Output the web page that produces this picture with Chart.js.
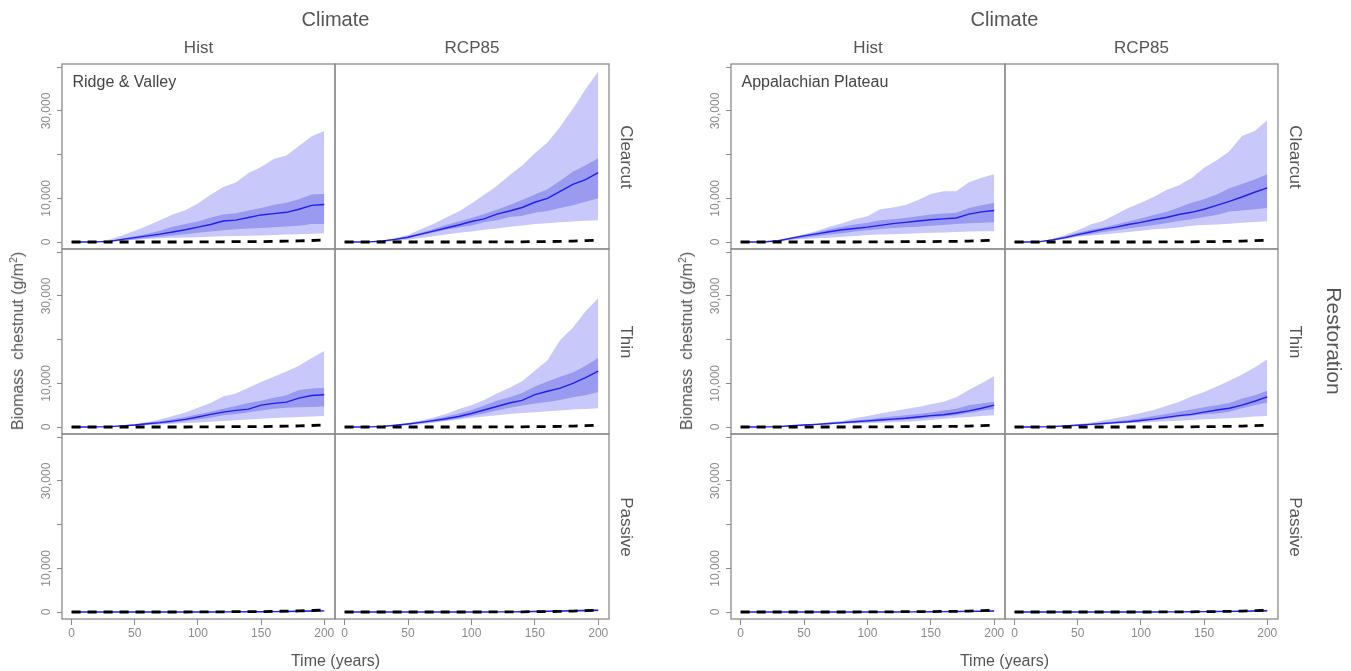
<!DOCTYPE html>
<html>
<head>
<meta charset="utf-8">
<script src="https://cdn.jsdelivr.net/npm/chart.js@4.4.1/dist/chart.umd.min.js"></script>
<style>
  body { margin: 0; background: #fff; }
  #wrap { position: relative; width: 1351px; height: 671px; overflow: hidden;
          font-family: "Liberation Sans", Arial, sans-serif; color: #555; }
  .pc { position: absolute; }
  .t { position: absolute; white-space: nowrap; line-height: 1; transform: translate(-50%, -50%); }
  .t sup { font-size: 0.65em; line-height: 0; vertical-align: 0.55em; }
</style>
</head>
<body>
<div id="wrap"></div>
<script>
// time axis (years) and axis ticks
const years = [0,10,20,30,40,50,60,70,80,90,100,110,120,130,140,150,160,170,180,190,200];
const xTicks = [0,50,100,150,200];
const yTicks = [0,10000,20000,30000,40000];
const yTickLabels = ['0','10,000','','30,000',''];

const climates = ['Hist', 'RCP85'];
const treatments = ['Clearcut', 'Thin', 'Passive'];
const regions = ['Ridge & Valley', 'Appalachian Plateau'];

// dashed reference line (same in every row of a column)
const rvHistRef = [0,0,0,0,0,0,0,0,0,0,50,50,50,100,100,100,150,200,250,350,450];
const rvRcpRef  = [0,0,0,0,0,0,0,0,0,0,0,0,50,50,50,100,100,150,200,300,400];
const apHistRef = [0,0,0,0,0,0,0,0,0,0,50,50,50,100,100,100,150,150,200,300,400];
const apRcpRef  = [0,0,0,0,0,0,0,0,0,0,0,0,50,50,50,100,100,150,200,300,400];

// Ridge & Valley, Hist, Clearcut
const rvHistCutMed  = [0,0,30,150,600,1000,1400,1800,2300,2800,3400,4000,4800,5000,5600,6200,6500,6800,7500,8400,8600];
const rvHistCutHi90 = [0,0,100,600,1500,2600,3700,5000,6300,7300,8800,10800,12600,13600,15800,17200,19000,19800,22000,24200,25400];
const rvHistCutLo90 = [0,0,0,100,300,500,700,850,950,1050,1100,1200,1300,1400,1450,1500,1600,1700,1800,1900,2000];
const rvHistCutHi50 = [0,0,50,250,800,1300,1900,2600,3500,4100,4700,5600,6300,6600,7200,7800,8500,9000,9800,10900,11000];
const rvHistCutLo50 = [0,0,10,80,300,550,900,1200,1500,1800,2100,2400,2700,2900,3100,3200,3400,3550,3700,4100,4150];

// Ridge & Valley, RCP85, Clearcut
const rvRcpCutMed  = [0,0,30,230,600,1100,1800,2500,3200,3900,4700,5300,6400,7100,7900,9100,10000,11600,13200,14300,15900];
const rvRcpCutHi90 = [0,0,50,300,900,1600,2900,4100,5600,7000,8800,10800,12800,15300,17500,20300,22800,26400,30500,35000,39100];
const rvRcpCutLo90 = [0,0,0,50,250,500,900,1300,1700,2100,2400,2800,3100,3500,3800,4100,4300,4500,4700,4850,5000];
const rvRcpCutHi50 = [0,0,40,300,800,1300,2100,3000,3900,4700,5500,6400,7400,8500,9600,10900,12100,14000,16100,17600,19200];
const rvRcpCutLo50 = [0,0,20,150,450,850,1500,2200,2800,3300,3800,4500,5000,5700,6000,6700,7100,7800,8400,9200,10000];

// Ridge & Valley, Hist, Thin
const rvHistThinMed  = [0,0,20,100,250,450,750,1000,1350,1750,2300,2900,3400,3800,4100,5000,5400,5700,6600,7200,7400];
const rvHistThinHi90 = [0,0,30,150,400,700,1150,1700,2500,3300,4400,5500,7000,7700,9000,10300,11500,12700,14000,15800,17400];
const rvHistThinLo90 = [0,0,0,50,150,300,450,600,750,900,1050,1200,1400,1550,1700,1900,2050,2200,2300,2400,2500];
const rvHistThinHi50 = [0,0,30,130,350,600,950,1300,1750,2300,2900,3500,4200,4800,5500,6000,6700,7300,8500,8800,9000];
const rvHistThinLo50 = [0,0,10,70,180,350,550,750,1000,1300,1700,2100,2700,3000,3400,3800,4200,4400,4500,4600,4700];

// Ridge & Valley, RCP85, Thin
const rvRcpThinMed  = [0,0,20,150,400,700,1050,1450,1900,2400,3100,3900,4700,5500,6100,7400,8200,8900,10000,11300,12800];
const rvRcpThinHi90 = [0,0,30,200,500,900,1500,2200,3000,4100,5000,6200,7700,9000,10500,12900,15300,19900,22700,26500,29500];
const rvRcpThinLo90 = [0,0,0,50,200,400,650,1000,1350,1700,2100,2400,2700,3000,3200,3400,3600,3800,4000,4150,4300];
const rvRcpThinHi50 = [0,0,30,180,450,800,1250,1800,2400,3100,3900,4900,6000,6800,7800,9300,10400,11500,12500,14000,15800];
const rvRcpThinLo50 = [0,0,10,100,300,550,850,1150,1500,1950,2500,3100,3800,4400,4900,5400,5700,6200,6800,7300,8000];

// Ridge & Valley, Passive
const rvHistPasMed  = [0,0,0,0,0,0,0,0,0,0,0,0,20,30,50,70,100,130,170,220,260];
const rvHistPasHi90 = [0,0,0,0,0,0,0,0,10,20,30,40,60,80,110,150,200,250,320,400,480];
const rvHistPasLo90 = [0,0,0,0,0,0,0,0,0,0,0,0,0,0,0,0,0,10,20,30,40];
const rvRcpPasMed   = [0,0,0,0,0,0,0,0,0,0,0,10,20,40,70,110,160,220,280,340,420];
const rvRcpPasHi90  = [0,0,0,0,0,0,0,0,10,20,30,50,80,110,160,220,290,360,450,560,650];
const rvRcpPasLo90  = [0,0,0,0,0,0,0,0,0,0,0,0,0,0,10,20,30,40,60,80,100];

// Appalachian Plateau, Hist, Clearcut
const apHistCutMed  = [0,0,50,300,900,1400,1850,2350,2800,3100,3400,3800,4200,4500,4800,5100,5300,5500,6400,6900,7200];
const apHistCutHi90 = [0,0,100,500,1100,1800,2500,3500,4300,5200,5900,7500,7900,8500,9600,11000,11600,11600,13700,14700,15500];
const apHistCutLo90 = [0,0,20,200,500,700,850,1000,1200,1400,1600,1700,1800,1900,2000,2100,2200,2300,2400,2450,2450];
const apHistCutHi50 = [0,0,70,400,1000,1600,2250,2900,3500,4000,4400,5000,5200,5500,5900,6300,6500,6700,7800,8400,9000];
const apHistCutLo50 = [0,0,30,200,600,1000,1300,1700,2000,2400,2700,3000,3200,3400,3500,3700,3900,4100,4300,4400,4500];

// Appalachian Plateau, RCP85, Clearcut
const apRcpCutMed  = [0,0,80,500,1000,1700,2300,2900,3400,4000,4500,5100,5600,6300,6800,7500,8400,9300,10300,11400,12400];
const apRcpCutHi90 = [0,0,100,700,1600,2700,4000,4800,6300,7800,9000,10300,11900,13000,14600,17000,18700,20800,24300,25400,27900];
const apRcpCutLo90 = [0,0,30,300,700,1200,1500,1700,2000,2300,2600,2900,3100,3300,3700,3900,4000,4200,4400,4600,4750];
const apRcpCutHi50 = [0,0,90,700,1300,2100,2800,3300,4000,4700,5400,6200,6900,7900,9000,9800,10900,12300,13300,14300,15500];
const apRcpCutLo50 = [0,0,60,300,800,1400,1800,2300,2700,3100,3500,3900,4300,4800,5200,5700,6200,7000,7200,7500,7800];

// Appalachian Plateau, Hist, Thin
const apHistThinMed  = [0,0,20,100,300,450,600,800,1000,1200,1400,1600,1800,2000,2300,2600,2800,3200,3700,4300,5000];
const apHistThinHi90 = [0,0,30,150,400,600,800,1100,1400,2000,2500,3100,3600,4100,4600,5200,5800,6800,8500,10000,11700];
const apHistThinLo90 = [0,0,10,50,200,300,450,600,750,800,850,950,1100,1200,1400,1600,1900,2100,2300,2500,2700];
const apHistThinHi50 = [0,0,20,120,350,500,700,900,1200,1500,1700,2100,2400,2700,3000,3300,3800,4200,5000,5400,5800];
const apHistThinLo50 = [0,0,10,80,250,380,500,650,800,950,1100,1300,1500,1700,1900,2100,2400,2700,3200,3700,4100];

// Appalachian Plateau, RCP85, Thin
const apRcpThinMed  = [0,0,20,100,250,400,600,800,1000,1200,1500,1800,2200,2600,2900,3400,3900,4300,5000,5900,6900];
const apRcpThinHi90 = [0,0,30,150,400,700,1000,1500,2000,2600,3200,3900,4800,5700,7000,8000,9300,10600,12000,13600,15500];
const apRcpThinLo90 = [0,0,10,50,150,250,400,600,750,900,1000,1150,1300,1450,1600,1800,1900,2000,2200,2400,2500];
const apRcpThinHi50 = [0,0,25,120,300,500,750,1000,1300,1600,2000,2500,3000,3500,4000,4500,5000,5500,6500,7300,8300];
const apRcpThinLo50 = [0,0,15,80,200,320,500,650,850,1000,1300,1600,1900,2300,2600,2900,3100,3500,4300,5000,5600];

// Appalachian Plateau, Passive
const apHistPasMed  = [0,0,0,0,0,0,0,0,0,0,0,0,10,20,40,60,80,110,140,180,220];
const apHistPasHi90 = [0,0,0,0,0,0,0,0,10,20,30,40,50,70,100,130,170,220,280,340,400];
const apHistPasLo90 = [0,0,0,0,0,0,0,0,0,0,0,0,0,0,0,0,0,10,20,30,40];
const apRcpPasMed   = [0,0,0,0,0,0,0,0,0,0,0,10,20,30,50,80,110,150,190,240,300];
const apRcpPasHi90  = [0,0,0,0,0,0,0,0,10,20,30,40,60,90,130,170,220,280,350,430,500];
const apRcpPasLo90  = [0,0,0,0,0,0,0,0,0,0,0,0,0,0,0,10,20,30,40,50,60];

const panels = [
  { g: 0, c: 0, r: 0, med: rvHistCutMed, hi90: rvHistCutHi90, lo90: rvHistCutLo90, hi50: rvHistCutHi50, lo50: rvHistCutLo50, ref: rvHistRef },
  { g: 0, c: 1, r: 0, med: rvRcpCutMed, hi90: rvRcpCutHi90, lo90: rvRcpCutLo90, hi50: rvRcpCutHi50, lo50: rvRcpCutLo50, ref: rvRcpRef },
  { g: 0, c: 0, r: 1, med: rvHistThinMed, hi90: rvHistThinHi90, lo90: rvHistThinLo90, hi50: rvHistThinHi50, lo50: rvHistThinLo50, ref: rvHistRef },
  { g: 0, c: 1, r: 1, med: rvRcpThinMed, hi90: rvRcpThinHi90, lo90: rvRcpThinLo90, hi50: rvRcpThinHi50, lo50: rvRcpThinLo50, ref: rvRcpRef },
  { g: 0, c: 0, r: 2, med: rvHistPasMed, hi90: rvHistPasHi90, lo90: rvHistPasLo90, hi50: rvHistPasMed, lo50: rvHistPasMed, ref: rvHistRef },
  { g: 0, c: 1, r: 2, med: rvRcpPasMed, hi90: rvRcpPasHi90, lo90: rvRcpPasLo90, hi50: rvRcpPasMed, lo50: rvRcpPasMed, ref: rvRcpRef },
  { g: 1, c: 0, r: 0, med: apHistCutMed, hi90: apHistCutHi90, lo90: apHistCutLo90, hi50: apHistCutHi50, lo50: apHistCutLo50, ref: apHistRef },
  { g: 1, c: 1, r: 0, med: apRcpCutMed, hi90: apRcpCutHi90, lo90: apRcpCutLo90, hi50: apRcpCutHi50, lo50: apRcpCutLo50, ref: apRcpRef },
  { g: 1, c: 0, r: 1, med: apHistThinMed, hi90: apHistThinHi90, lo90: apHistThinLo90, hi50: apHistThinHi50, lo50: apHistThinLo50, ref: apHistRef },
  { g: 1, c: 1, r: 1, med: apRcpThinMed, hi90: apRcpThinHi90, lo90: apRcpThinLo90, hi50: apRcpThinHi50, lo50: apRcpThinLo50, ref: apRcpRef },
  { g: 1, c: 0, r: 2, med: apHistPasMed, hi90: apHistPasHi90, lo90: apHistPasLo90, hi50: apHistPasMed, lo50: apHistPasMed, ref: apHistRef },
  { g: 1, c: 1, r: 2, med: apRcpPasMed, hi90: apRcpPasHi90, lo90: apRcpPasLo90, hi50: apRcpPasMed, lo50: apRcpPasMed, ref: apRcpRef }
];

// page layout (px)
const gridX = [[62, 335, 609], [731, 1005, 1278]];
const rowY = [64, 249, 434, 619];
const M = 40, YW = 30, XH = 26;

const OUTER = '#c8c8fa', INNER = '#9a9af1', LINE = '#1f1fee', GREY = '#8a8a8a';
const FONT = '"Liberation Sans", Arial, sans-serif';

const wrap = document.getElementById('wrap');

const frame = {
  id: 'frame',
  afterDatasetsDraw(chart) {
    const a = chart.chartArea, c = chart.ctx;
    c.save();
    c.strokeStyle = '#8c8c8c';
    c.lineWidth = 1.3;
    c.strokeRect(a.left, a.top, a.right - a.left, a.bottom - a.top);
    c.restore();
  }
};

const pts = arr => years.map((t, i) => ({ x: t, y: arr[i] }));

panels.forEach(p => {
  const bx = gridX[p.g][p.c], bw = gridX[p.g][p.c + 1] - bx;
  const by = rowY[p.r], bh = rowY[p.r + 1] - by;
  const showY = p.c === 0, showX = p.r === 2;

  const holder = document.createElement('div');
  holder.className = 'pc';
  holder.style.left = (bx - M) + 'px';
  holder.style.top = (by - M) + 'px';
  const cv = document.createElement('canvas');
  cv.width = bw + 2 * M;
  cv.height = bh + 2 * M;
  cv.style.width = cv.width + 'px';
  cv.style.height = cv.height + 'px';
  holder.appendChild(cv);
  wrap.appendChild(holder);

  // lower 'order' is drawn on top
  const band = (data, fill, color, order) => ({
    data: pts(data), fill: fill, backgroundColor: color, order: order,
    borderWidth: 0, pointRadius: 0, tension: 0
  });

  new Chart(cv, {
    type: 'line',
    data: {
      datasets: [
        band(p.lo90, false, OUTER, 6),
        band(p.hi90, '-1', OUTER, 5),
        band(p.lo50, false, INNER, 4),
        band(p.hi50, '-1', INNER, 3),
        { data: pts(p.med), borderColor: LINE, borderWidth: 1.4, pointRadius: 0, fill: false, tension: 0, order: 2 },
        { data: pts(p.ref), borderColor: '#000', borderWidth: 2.8, borderDash: [9, 7], pointRadius: 0, fill: false, tension: 0, order: 1 }
      ]
    },
    options: {
      responsive: false,
      animation: false,
      devicePixelRatio: 1,
      layout: {
        padding: { left: M - (showY ? YW : 0), right: M, top: M, bottom: M - (showX ? XH : 0) }
      },
      plugins: { legend: { display: false }, tooltip: { enabled: false } },
      scales: {
        x: {
          type: 'linear', min: -7.6, max: 208.5, display: showX,
          afterBuildTicks: s => { s.ticks = xTicks.map(v => ({ value: v })); },
          afterFit: s => { s.height = showX ? XH : 0; },
          border: { display: false },
          grid: { drawOnChartArea: false, drawTicks: true, tickLength: 6, tickColor: GREY, color: GREY },
          ticks: { color: GREY, font: { family: FONT, size: 12 }, padding: 1, maxRotation: 0, autoSkip: false }
        },
        y: {
          type: 'linear', min: -1600, max: 40760, display: showY,
          afterBuildTicks: s => { s.ticks = yTicks.map(v => ({ value: v })); },
          afterFit: s => { s.width = showY ? YW : 0; },
          border: { display: false },
          grid: { drawOnChartArea: false, drawTicks: true, tickLength: 5, tickColor: GREY, color: GREY },
          ticks: {
            color: GREY, font: { family: FONT, size: 12 }, padding: -8,
            minRotation: 90, maxRotation: 90, crossAlign: 'center', autoSkip: false,
            callback: (v, i) => yTickLabels[i]
          }
        }
      }
    },
    plugins: [frame]
  });
});

// text labels
function addText(txt, x, y, size, opts) {
  const d = document.createElement('div');
  d.className = 't';
  d.innerHTML = txt;
  d.style.left = x + 'px';
  d.style.top = y + 'px';
  d.style.fontSize = size + 'px';
  if (opts && opts.rot) d.style.transform = 'translate(-50%, -50%) rotate(' + opts.rot + 'deg)';
  if (opts && opts.color) d.style.color = opts.color;
  if (opts && opts.left) { d.style.transform = 'none'; }
  wrap.appendChild(d);
}

[0, 1].forEach(g => {
  const xs = gridX[g];
  addText('Climate', (xs[0] + xs[2]) / 2, 19, 20);
  climates.forEach((cl, c) => addText(cl, (xs[c] + xs[c + 1]) / 2, 47, 17));
  treatments.forEach((tr, r) => addText(tr, xs[2] + 17, (rowY[r] + rowY[r + 1]) / 2, 17, { rot: 90 }));
  addText(regions[g], xs[0] + 10.5, 74, 16, { left: true, color: '#444' });
  addText('Time (years)', (xs[0] + xs[2]) / 2, 661, 16);
  addText('Biomass&nbsp; chestnut (g/m<sup>2</sup>)', xs[0] - 44, 341, 16, { rot: -90 });
});
addText('Restoration', 1334, 341, 21, { rot: 90 });
</script>
</body>
</html>
